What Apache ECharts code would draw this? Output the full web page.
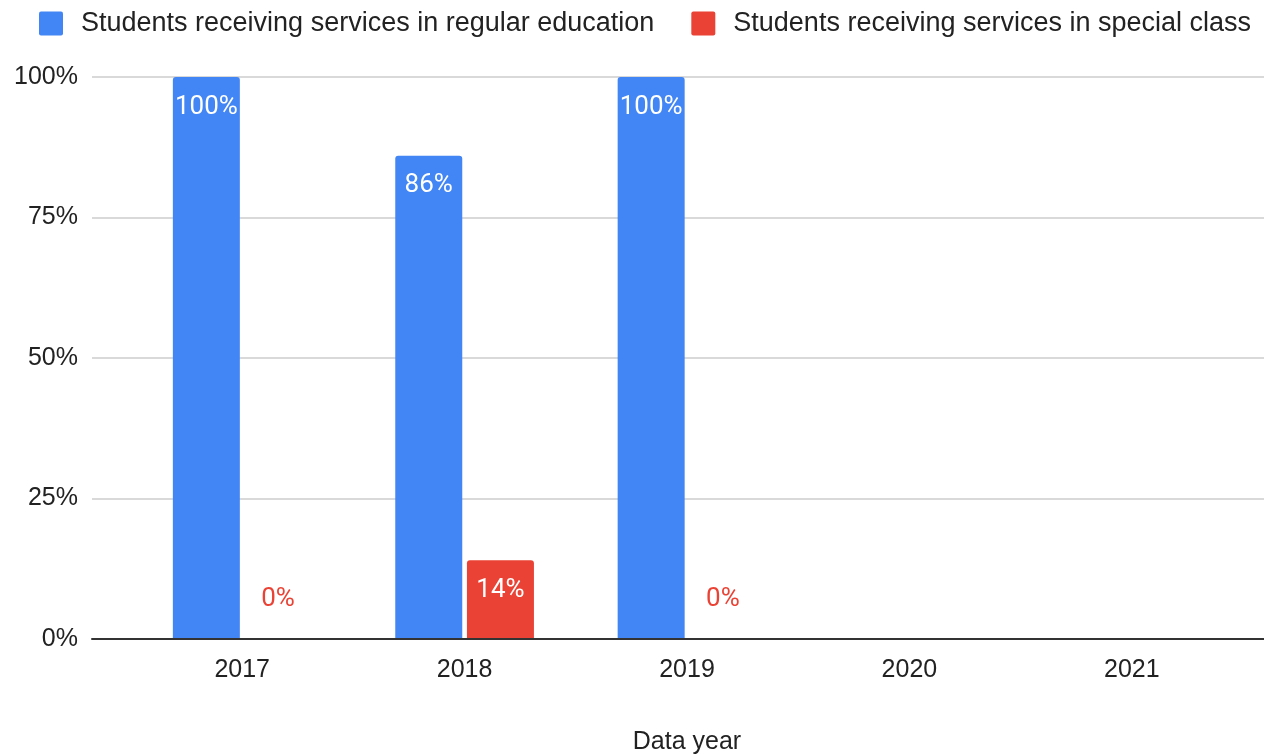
<!DOCTYPE html>
<html>
<head>
<meta charset="utf-8">
<script src="https://cdn.jsdelivr.net/npm/echarts@6/dist/echarts.min.js"></script>
<style>
  html, body { margin: 0; padding: 0; background: #fff; }
  #chart { width: 1264px; height: 756px; }
</style>
</head>
<body>
<div id="chart"></div>
<script>
// Share of students by placement, per data year (percent)
const years = ['2017', '2018', '2019', '2020', '2021'];
const regularEducation = [100, 86, 100, null, null];
const specialClass = [0, 14, 0, null, null];
const yTicks = [0, 25, 50, 75, 100];

const seriesNames = [
  'Students receiving services in regular education',
  'Students receiving services in special class'
];
const BLUE = '#4285F4';
const RED = '#EA4335';
const AXIS_FONT = '"Liberation Sans", Arial, sans-serif';
const LABEL_FONT = 'Roboto, "Liberation Sans", sans-serif';
// square legend swatch with slightly rounded corners
const SWATCH = 'path://M2,0 H22 A2,2 0 0 1 24,2 V22 A2,2 0 0 1 22,24 H2 A2,2 0 0 1 0,22 V2 A2,2 0 0 1 2,0 Z';

const pct = p => p.value + '%';

// bar label: inside the top of the bar, or above the baseline for zero values
function barData(values, zeroColor) {
  return values.map(v => {
    if (v === null) return '-';
    if (v === 0) {
      return {
        value: v,
        label: { position: 'top', distance: 27, color: zeroColor }
      };
    }
    return v;
  });
}

const chart = echarts.init(document.getElementById('chart'), null, { renderer: 'canvas' });

chart.setOption({
  animation: false,
  backgroundColor: '#ffffff',
  legend: {
    top: 5,
    left: 34,
    itemWidth: 24,
    itemHeight: 24,
    itemGap: 37,
    icon: SWATCH,
    textStyle: {
      fontFamily: AXIS_FONT,
      fontSize: 27,
      color: '#222',
      padding: [0, 0, 0, 13]
    },
    data: seriesNames
  },
  grid: [
    // full-width frame: gridlines, y labels and baseline
    { left: 92, right: 0, top: 77, bottom: 117, containLabel: false, outerBoundsMode: 'none' },
    // bars, inset from the frame
    { left: 131, right: 21, top: 77, bottom: 117, containLabel: false, outerBoundsMode: 'none' }
  ],
  xAxis: [
    {
      gridIndex: 0,
      type: 'category',
      data: [''],
      axisLine: { show: true, lineStyle: { color: '#333', width: 2 } },
      axisTick: { show: false },
      axisLabel: { show: false },
      z: 5
    },
    {
      gridIndex: 1,
      type: 'category',
      data: years,
      axisLine: { show: false },
      axisTick: { show: false },
      axisLabel: {
        fontFamily: AXIS_FONT,
        fontSize: 25,
        color: '#222',
        margin: 19
      },
      name: 'Data year',
      nameLocation: 'middle',
      nameGap: 91,
      nameTextStyle: { fontFamily: AXIS_FONT, fontSize: 25, color: '#222' }
    }
  ],
  yAxis: [
    {
      gridIndex: 0,
      type: 'value',
      min: yTicks[0],
      max: yTicks[yTicks.length - 1],
      interval: yTicks[1] - yTicks[0],
      axisLine: { show: false },
      axisTick: { show: false },
      axisLabel: {
        formatter: v => v + '%',
        fontFamily: AXIS_FONT,
        fontSize: 25,
        color: '#222',
        margin: 14
      },
      splitLine: { lineStyle: { color: '#cccccc', width: 1.5 } }
    },
    {
      gridIndex: 1,
      type: 'value',
      min: yTicks[0],
      max: yTicks[yTicks.length - 1],
      interval: yTicks[1] - yTicks[0],
      show: false,
      splitLine: { show: false }
    }
  ],
  series: [
    {
      name: seriesNames[0],
      type: 'bar',
      xAxisIndex: 1,
      yAxisIndex: 1,
      barWidth: 67,
      barGap: '7%',
      itemStyle: { color: BLUE, borderRadius: [3, 3, 0, 0] },
      label: {
        show: true,
        position: 'insideTop',
        distance: 17,
        formatter: pct,
        fontFamily: LABEL_FONT,
        fontSize: 26,
        color: '#ffffff'
      },
      data: barData(regularEducation, BLUE)
    },
    {
      name: seriesNames[1],
      type: 'bar',
      xAxisIndex: 1,
      yAxisIndex: 1,
      barWidth: 67,
      barGap: '7%',
      itemStyle: { color: RED, borderRadius: [3, 3, 0, 0] },
      label: {
        show: true,
        position: 'insideTop',
        distance: 17,
        formatter: pct,
        fontFamily: LABEL_FONT,
        fontSize: 26,
        color: '#ffffff'
      },
      data: barData(specialClass, RED)
    }
  ]
});
</script>
</body>
</html>
